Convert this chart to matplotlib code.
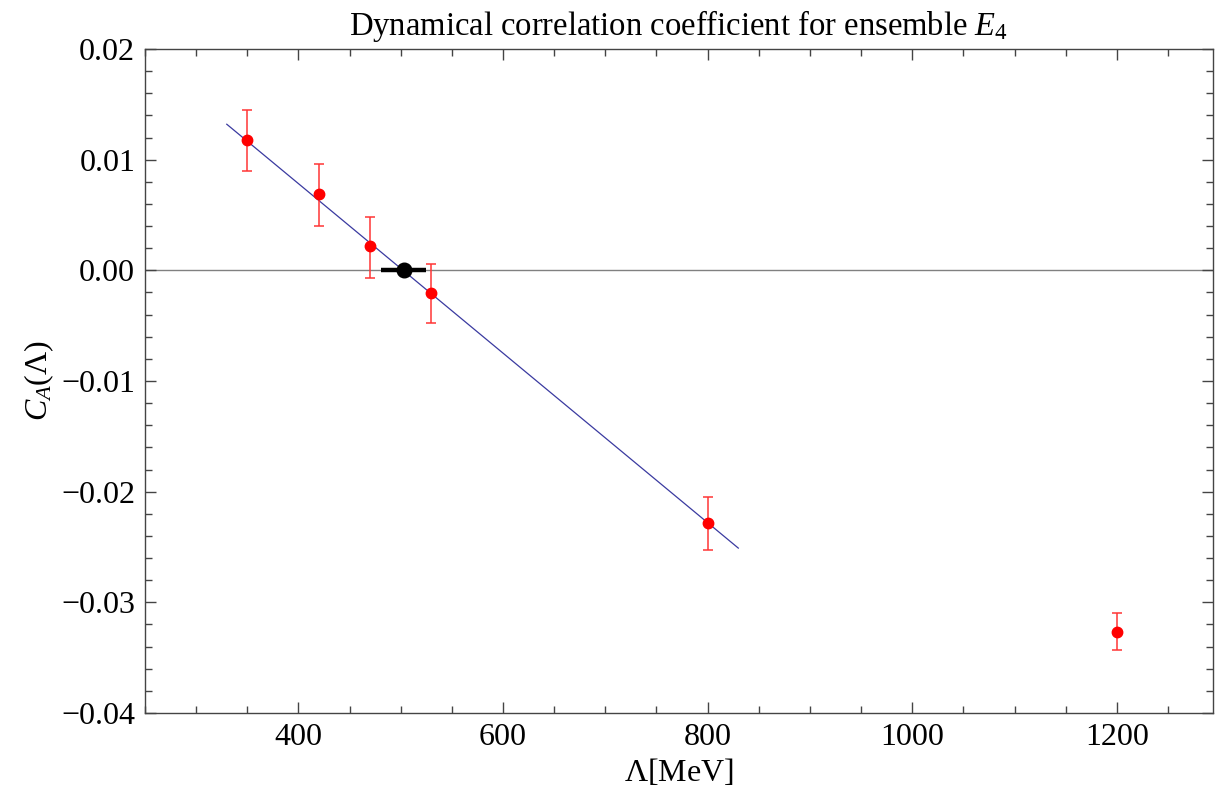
import matplotlib
matplotlib.use("Agg")
import matplotlib.pyplot as plt
from matplotlib.ticker import MultipleLocator

plt.rcParams['font.family'] = ['Liberation Serif', 'DejaVu Serif']
plt.rcParams['mathtext.fontset'] = 'custom'
plt.rcParams['mathtext.rm'] = 'Liberation Serif'
plt.rcParams['mathtext.it'] = 'Liberation Serif:italic'
plt.rcParams['mathtext.bf'] = 'Liberation Serif:bold'

# Data
lam = [350, 420, 470, 530, 800, 1200]
ca = [0.01175, 0.00687, 0.00217, -0.00205, -0.02285, -0.03264]
err_up = [0.00271, 0.00271, 0.00269, 0.00259, 0.00235, 0.00164]
err_dn = [0.00277, 0.00289, 0.00283, 0.00271, 0.00245, 0.00166]

fit_x = [330, 830]
fit_y = [0.0132, -0.0251]

zero_x = [503]
zero_y = [0.0]
zero_xerr = [22]

fig = plt.figure(figsize=(12.17, 8.02), dpi=100)
ax = fig.add_axes([0.1191, 0.1110, 0.8776, 0.8279])

ax.axhline(0, color='#808080', lw=1.0, zorder=1)
ax.plot(fit_x, fit_y, color='#3a3aa0', lw=0.9, zorder=2)
ax.errorbar(lam, ca, yerr=[err_dn, err_up], fmt='o', color='#ff0000', ms=7.5,
            ecolor='#ff3535', elinewidth=1.1, capsize=3.5, capthick=1.1, zorder=3)
ax.errorbar(zero_x, zero_y, xerr=zero_xerr, fmt='o', color='black', ms=10.5,
            ecolor='black', elinewidth=3.2, capsize=0, zorder=4)

ax.set_xlim(250, 1294)
ax.set_ylim(-0.04, 0.02)

ax.xaxis.set_major_locator(MultipleLocator(200))
ax.xaxis.set_minor_locator(MultipleLocator(50))
ax.yaxis.set_major_locator(MultipleLocator(0.01))
ax.yaxis.set_minor_locator(MultipleLocator(0.002))
ax.yaxis.set_major_formatter(matplotlib.ticker.FuncFormatter(
    lambda v, p: ('%.2f' % v).replace('-', '\u2212') if abs(v) > 1e-9 else '0.00'))

ax.tick_params(which='both', direction='in', top=True, right=True, labelsize=23,
               color='#444444', width=1.0)
ax.tick_params(which='major', length=8, pad=7)
ax.tick_params(which='minor', length=5)
for s in ax.spines.values():
    s.set_color('#444444')
    s.set_linewidth(1.0)

ax.set_title(r'Dynamical correlation coefficient for ensemble $E_4$', fontsize=23.5, pad=10)
ax.set_xlabel(r'$\Lambda$[MeV]', fontsize=23, labelpad=4)
ax.set_ylabel(r'$C_A(\Lambda)$', fontsize=23, labelpad=4)

fig.savefig('out.png', dpi=100)
